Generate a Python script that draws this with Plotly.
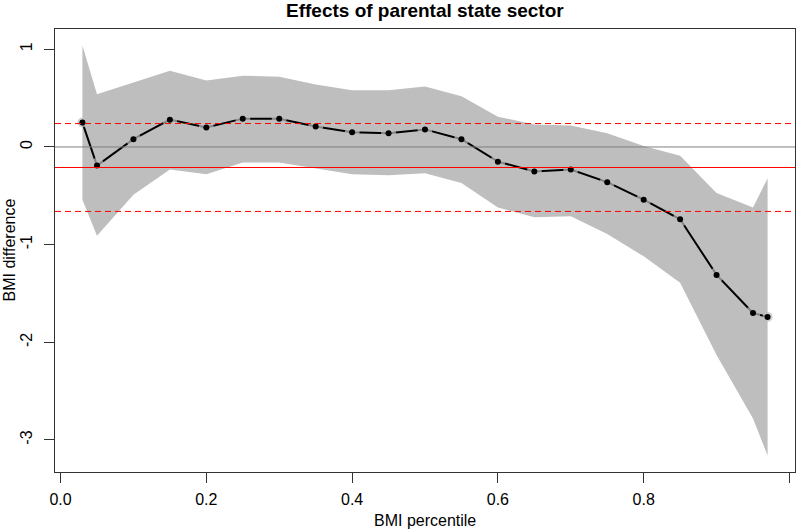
import plotly.graph_objects as go

# Data
percentile = [0.03, 0.05, 0.10, 0.15, 0.20, 0.25, 0.30, 0.35, 0.40, 0.45, 0.50,
              0.55, 0.60, 0.65, 0.70, 0.75, 0.80, 0.85, 0.90, 0.95, 0.97]
estimate = [0.25, -0.19, 0.08, 0.28, 0.20, 0.29, 0.29, 0.21, 0.15, 0.14, 0.18,
            0.08, -0.15, -0.25, -0.23, -0.36, -0.54, -0.74, -1.31, -1.70, -1.74]
upper = [1.04, 0.54, 0.66, 0.78, 0.68, 0.73, 0.72, 0.64, 0.58, 0.58, 0.62,
         0.52, 0.31, 0.23, 0.22, 0.14, 0.01, -0.09, -0.47, -0.62, -0.32]
lower = [-0.54, -0.91, -0.49, -0.23, -0.28, -0.16, -0.16, -0.22, -0.28, -0.29, -0.27,
         -0.37, -0.62, -0.72, -0.71, -0.89, -1.12, -1.39, -2.13, -2.78, -3.16]
zero_line = 0.0
mean_effect = -0.21
mean_band = [0.24, -0.66]

x_ticks = [0.0, 0.2, 0.4, 0.6, 0.8, 1.0]
x_ticklabels = ["0.0", "0.2", "0.4", "0.6", "0.8", "1.0"]
y_ticks = [1, 0, -1, -2, -3]
y_ticklabels = ["1", "0", "-1", "-2", "-3"]

FONT = "Liberation Sans, Arial, Helvetica, sans-serif"
RIBBON = "#BEBEBE"
RED = "rgb(255,0,0)"

fig = go.Figure()

# confidence ribbon
fig.add_trace(go.Scatter(x=percentile, y=lower, mode="lines",
                         line=dict(width=0, color=RIBBON), hoverinfo="skip",
                         showlegend=False))
fig.add_trace(go.Scatter(x=percentile, y=upper, mode="lines", fill="tonexty",
                         fillcolor=RIBBON, line=dict(width=0, color=RIBBON),
                         hoverinfo="skip", showlegend=False))

# estimate line (R type="b": line with gaps around the points)
gap_sizes = [10] + [15] * (len(percentile) - 2) + [10]
fig.add_trace(go.Scatter(x=percentile, y=estimate, mode="lines",
                         line=dict(color="black", width=2), showlegend=False))
fig.add_trace(go.Scatter(x=percentile, y=estimate, mode="markers",
                         marker=dict(color=RIBBON, size=gap_sizes, line=dict(width=0)),
                         showlegend=False, hoverinfo="skip"))
fig.add_trace(go.Scatter(x=percentile, y=estimate, mode="markers",
                         marker=dict(color="black", size=6, line=dict(width=0)),
                         showlegend=False))

# horizontal reference lines (abline-style, full width)
fig.add_hline(y=zero_line, line=dict(color="#7F7F7F", width=1), layer="above")
fig.add_hline(y=mean_effect, line=dict(color=RED, width=1), layer="above")
for v in mean_band:
    fig.add_hline(y=v, line=dict(color=RED, width=1, dash="6px,4px"), layer="above")

axis_common = dict(showgrid=False, zeroline=False, showline=True, mirror=True,
                   linecolor="#333333", linewidth=1, ticks="outside", ticklen=10,
                   tickcolor="#333333", tickwidth=1,
                   tickfont=dict(family=FONT, size=16, color="black"))

fig.update_layout(
    width=800, height=530,
    margin=dict(l=55, r=5, t=29, b=58),
    paper_bgcolor="white", plot_bgcolor="white",
    xaxis=dict(range=[-0.0076, 1.0076], tickvals=x_ticks, ticktext=x_ticklabels,
               ticklabelstandoff=3, **axis_common),
    yaxis=dict(range=[-3.328, 1.208], tickvals=y_ticks, ticktext=y_ticklabels,
               tickangle=-90, ticklabelstandoff=6, **axis_common),
    annotations=[
        dict(text="<b>Effects of parental state sector</b>", xref="paper", yref="paper",
             x=0.5, y=1, yshift=19, xanchor="center", yanchor="middle",
             showarrow=False, font=dict(family=FONT, size=19, color="black")),
        dict(text="BMI percentile", xref="paper", yref="paper", x=0.5, y=0,
             yshift=-48, xanchor="center", yanchor="middle", showarrow=False,
             font=dict(family=FONT, size=16, color="black")),
        dict(text="BMI difference", xref="paper", yref="paper", x=0, y=0.5,
             xshift=-46, xanchor="center", yanchor="middle", textangle=-90,
             showarrow=False, font=dict(family=FONT, size=16, color="black")),
    ],
)

fig.write_html("out.html", config={"displayModeBar": False},
               post_script="document.body.style.margin='0';document.body.style.overflow='hidden';")
